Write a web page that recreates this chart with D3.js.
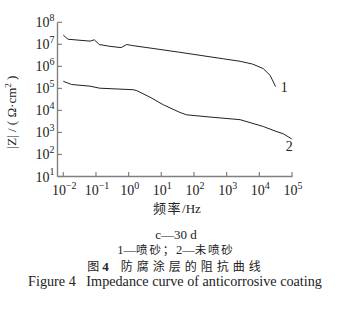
<!DOCTYPE html>
<html><head><meta charset="utf-8">
<script src="https://cdn.jsdelivr.net/npm/d3@7/dist/d3.min.js"></script>
<style>
body{margin:0;background:#fff;}
svg{display:block;}
text{font-family:"Liberation Serif","DejaVu Serif",serif;fill:#222;}
</style></head>
<body>
<script>
// Frequency (Hz) and |Z| (Ω·cm²)
const freq1 = [0.01,0.014,0.066,0.089,0.126,0.27,0.59,0.87,1.23,4.5,35,794,2570,6300,13200,21400,31600];
const z1    = [2.6e7,1.7e7,1.4e7,1.6e7,9.8e6,8.1e6,7.1e6,9.8e6,8.9e6,6.8e6,4.4e6,2.2e6,1.7e6,1.26e6,7.9e5,3.9e5,1.2e5];
const freq2 = [0.01,0.018,0.066,0.13,1.38,1.78,4.5,11.5,37,60,309,2570,13200,32400,53700,98000];
const z2    = [2.1e5,1.5e5,1.26e5,1.02e5,8.7e4,7.9e4,4.0e4,1.8e4,8.1e3,6.3e3,5.0e3,3.8e3,1.86e3,1.12e3,870,510];
const seriesLabels = ["1","2"];
const xTickExp = [-2,-1,0,1,2,3,4,5];
const yTickExp = [1,2,3,4,5,6,7,8];
const xTitle = ["频率","/Hz"];
const captionLine1 = "c—30 d";
const captionLine2 = [["1—",false],["喷砂；",true],["2—",false],["未喷砂",true]];
const figTitleCN = ["图","4","防腐涂层的阻抗曲线"];
const figTitleEN = "Figure 4   Impedance curve of anticorrosive coating";

const CJK="'Noto Sans CJK SC','Noto Sans CJK JP',sans-serif";
const W=352,H=326;
const svg=d3.select("body").append("svg").attr("width",W).attr("height",H);
const x=d3.scaleLog().domain([1e-2,1e5]).range([63.3,292]);
const y=d3.scaleLog().domain([10,1e8]).range([176.5,22.3]);
const axisColor="#808080";

// axes lines
svg.append("line").attr("x1",57.5).attr("x2",57.5).attr("y1",y(1e8)).attr("y2",176.5).attr("stroke",axisColor).attr("stroke-width",1.4);
svg.append("line").attr("x1",57.5).attr("x2",292.5).attr("y1",176.5).attr("y2",176.5).attr("stroke",axisColor).attr("stroke-width",1.4);

// y ticks (inward)
yTickExp.forEach(e=>{
  const yy=y(Math.pow(10,e));
  svg.append("line").attr("x1",57.5).attr("x2",62).attr("y1",yy).attr("y2",yy).attr("stroke",axisColor).attr("stroke-width",1.2);
  const t=svg.append("text").attr("x",54.5).attr("y",yy+5).attr("text-anchor","end").attr("font-size",14);
  t.append("tspan").text("10");
  t.append("tspan").attr("dy",-6.5).attr("font-size",10).text(e);
});
// x ticks (inward)
xTickExp.forEach(e=>{
  const xx=x(Math.pow(10,e));
  svg.append("line").attr("x1",xx).attr("x2",xx).attr("y1",176.5).attr("y2",172).attr("stroke",axisColor).attr("stroke-width",1.2);
  const t=svg.append("text").attr("x",xx+1).attr("y",195).attr("text-anchor","middle").attr("font-size",14);
  t.append("tspan").text("10");
  t.append("tspan").attr("dy",-6.5).attr("font-size",10).text(e<0?"−"+(-e):e);
});

// titles
const xt=svg.append("text").attr("x",177).attr("y",213).attr("text-anchor","middle").attr("font-size",13);
xt.append("tspan").style("font-family",CJK).attr("letter-spacing",1.5).text(xTitle[0]);
xt.append("tspan").text(xTitle[1]);
const yl=svg.append("text").attr("transform","translate(16,112) rotate(-90)").attr("text-anchor","middle").attr("font-size",13);
yl.append("tspan").text("|Z| / ( Ω·cm");
yl.append("tspan").attr("dy",-5).attr("font-size",9).text("2");
yl.append("tspan").attr("dy",5).text(" )");

// curves
const line=d3.line().x(d=>x(d[0])).y(d=>y(d[1]));
const d1=freq1.map((f,i)=>[f,z1[i]]);
const d2=freq2.map((f,i)=>[f,z2[i]]);
[d1,d2].forEach(d=>svg.append("path").datum(d).attr("d",line).attr("fill","none").attr("stroke","#222").attr("stroke-width",1));
svg.append("text").attr("x",x(freq1[freq1.length-1])+5).attr("y",y(z1[z1.length-1])+5).attr("font-size",14).text(seriesLabels[0]);
svg.append("text").attr("x",x(freq2[freq2.length-1])-6).attr("y",y(z2[z2.length-1])+12).attr("font-size",14).text(seriesLabels[1]);

// captions
svg.append("text").attr("x",176).attr("y",239).attr("text-anchor","middle").attr("font-size",13).text(captionLine1);
const c2=svg.append("text").attr("x",176).attr("y",254).attr("text-anchor","middle").attr("font-size",12.5);
captionLine2.forEach(([s,cjk])=>{
  const t=c2.append("tspan").text(s);
  if(cjk) t.style("font-family",CJK).attr("font-size",11.5).attr("letter-spacing",1.8);
});
const ft=svg.append("text").attr("x",176).attr("y",270.5).attr("text-anchor","middle").attr("font-size",13);
ft.append("tspan").style("font-family",CJK).attr("font-size",12).text(figTitleCN[0]);
ft.append("tspan").attr("font-weight","bold").attr("dx",3).text(figTitleCN[1]);
ft.append("tspan").style("font-family",CJK).attr("font-size",12).attr("dx",12).attr("letter-spacing",4).text(figTitleCN[2]);
svg.append("text").attr("x",175).attr("y",285.5).attr("text-anchor","middle").attr("font-size",14.2).style("white-space","pre").text(figTitleEN);
</script>
</body></html>
